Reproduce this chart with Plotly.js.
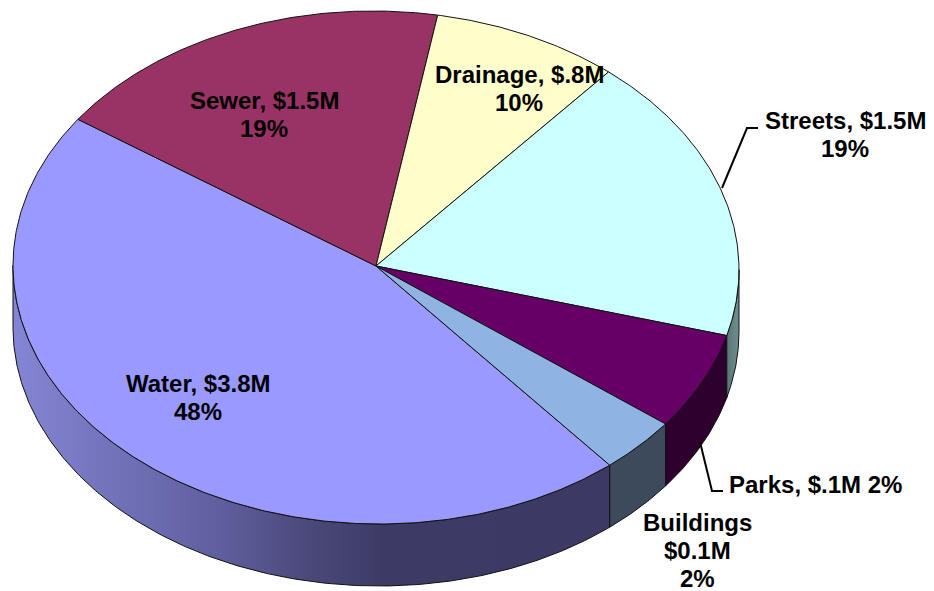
<!DOCTYPE html>
<html>
<head>
<meta charset="utf-8">
<script src="https://cdn.plot.ly/plotly-3.0.1.min.js"></script>
<style>html,body{margin:0;padding:0;background:#fff}#chart{width:934px;height:591px}</style>
</head>
<body>
<div id="chart"></div>
<script>
// Slice names and their printed labels
const categories = ["Water", "Sewer", "Drainage", "Streets", "Parks", "Buildings"];
const labelTexts = [
  ["Water, $3.8M", "48%"],
  ["Sewer, $1.5M", "19%"],
  ["Drainage, $.8M", "10%"],
  ["Streets, $1.5M", "19%"],
  ["Parks, $.1M 2%"],
  ["Buildings", "$0.1M", "2%"]
];
// Visible share of the disc taken by each slice (percent)
const sliceShares = [45.8, 18.05, 8.35, 18.07, 6.17, 3.56];
const topColors = ["#9999ff", "#993366", "#ffffcc", "#ccffff", "#660066", "#8fb4e3"];
const wallColors = ["#3c3a66", "#5e2040", "#808066", "#5f7b7b", "#2d002d", "#3c4a5c"];
// Label anchor points in pixels
const labelX = [198, 264, 519, 845, 815, 697];
const labelY = [397, 114, 88, 134, 484, 550];
const lineStep = 28;

const apexX = 376, apexY = 266;
const cx = 376, cy = 267.5, rx = 363, ry = 256.5, depth = 62, tilt = 0.006;
const startAngle = 145.2;            // degrees, counter-clockwise from east

const rad = d => d * Math.PI / 180;
const px = a => cx + rx * Math.cos(rad(a));
const py = (a, off = 0) => cy - ry * Math.sin(rad(a)) + tilt * rx * Math.cos(rad(a)) + off;

function arc(a0, a1, off = 0) {
  const n = Math.max(2, Math.ceil(Math.abs(a1 - a0) * 2));
  const xs = [], ys = [];
  for (let i = 0; i <= n; i++) {
    const a = a0 + (a1 - a0) * i / n;
    xs.push(px(a)); ys.push(py(a, off));
  }
  return [xs, ys];
}

// Angular extents: Water runs counter-clockwise from the start angle,
// the remaining slices run clockwise from it and meet Water again.
const ext = {};
ext.Water = [startAngle, startAngle + sliceShares[0] * 3.6];
let cur = startAngle;
categories.slice(1).forEach((n, i) => {
  ext[n] = [cur, cur - sliceShares[i + 1] * 3.6];
  cur -= sliceShares[i + 1] * 3.6;
});

const traces = [];
function wall(a0, a1, color, grad) {
  const t = arc(a0, a1, 0), b = arc(a1, a0, depth);
  const tr = {
    x: t[0].concat(b[0]).concat([t[0][0]]),
    y: t[1].concat(b[1]).concat([t[1][0]]),
    mode: "lines", fill: "toself", fillcolor: color,
    line: {color: "#111", width: 1}, hoverinfo: "skip", showlegend: false
  };
  if (grad) tr.fillgradient = grad;
  traces.push(tr);
}
// Side walls are only visible on the lower half of the disc
wall(180, ext.Water[1], wallColors[0], {
  type: "horizontal", start: 13, stop: 610,
  colorscale: [[0, "#8585d6"], [0.15, "#7474bc"], [0.35, "#5f5e9e"], [0.5, "#4a4878"], [0.62, "#3d3b66"], [1, "#3c3a64"]]
});
wall(360 + ext.Buildings[1], 360 + ext.Buildings[0], wallColors[5]);
wall(360 + ext.Parks[1], 360 + ext.Parks[0], wallColors[4]);
wall(360 + ext.Streets[1], 360, wallColors[3], {
  type: "horizontal", start: 724, stop: 739,
  colorscale: [[0, "#567272"], [1, "#6f8e8e"]]
});

// Top faces
categories.forEach((n, i) => {
  const [a0, a1] = ext[n];
  const c = arc(a0, a1);
  traces.push({
    x: [apexX].concat(c[0]).concat([apexX]),
    y: [apexY].concat(c[1]).concat([apexY]),
    mode: "lines", fill: "toself", fillcolor: topColors[i],
    line: {color: "#111", width: 1}, name: n, hoverinfo: "name", showlegend: false
  });
});

// One annotation per text line, so the line pitch matches the reference
const annotations = [];
categories.forEach((n, i) => {
  const lines = labelTexts[i];
  lines.forEach((t, j) => {
    annotations.push({
      x: labelX[i], y: labelY[i] + (j - (lines.length - 1) / 2) * lineStep,
      xref: "x", yref: "y", text: "<b>" + t + "</b>",
      showarrow: false, align: "center", xanchor: "center", yanchor: "middle",
      font: {family: "'Liberation Sans', Arial, sans-serif", size: 24, color: "#000"}
    });
  });
});

const leader = d => ({type: "path", path: d, line: {color: "#000", width: 2}, layer: "above"});
const shapes = [
  leader("M 722 188 L 747 128 L 758 128"),
  leader("M 700 442 L 712 491 L 723 491")
];

Plotly.newPlot("chart", traces, {
  width: 934, height: 591,
  margin: {l: 0, r: 0, t: 0, b: 0},
  paper_bgcolor: "#fff", plot_bgcolor: "#fff",
  showlegend: false,
  xaxis: {range: [0, 934], visible: false, fixedrange: true},
  yaxis: {range: [591, 0], visible: false, fixedrange: true},
  annotations, shapes
}, {displayModeBar: false, staticPlot: true});
</script>
</body>
</html>
